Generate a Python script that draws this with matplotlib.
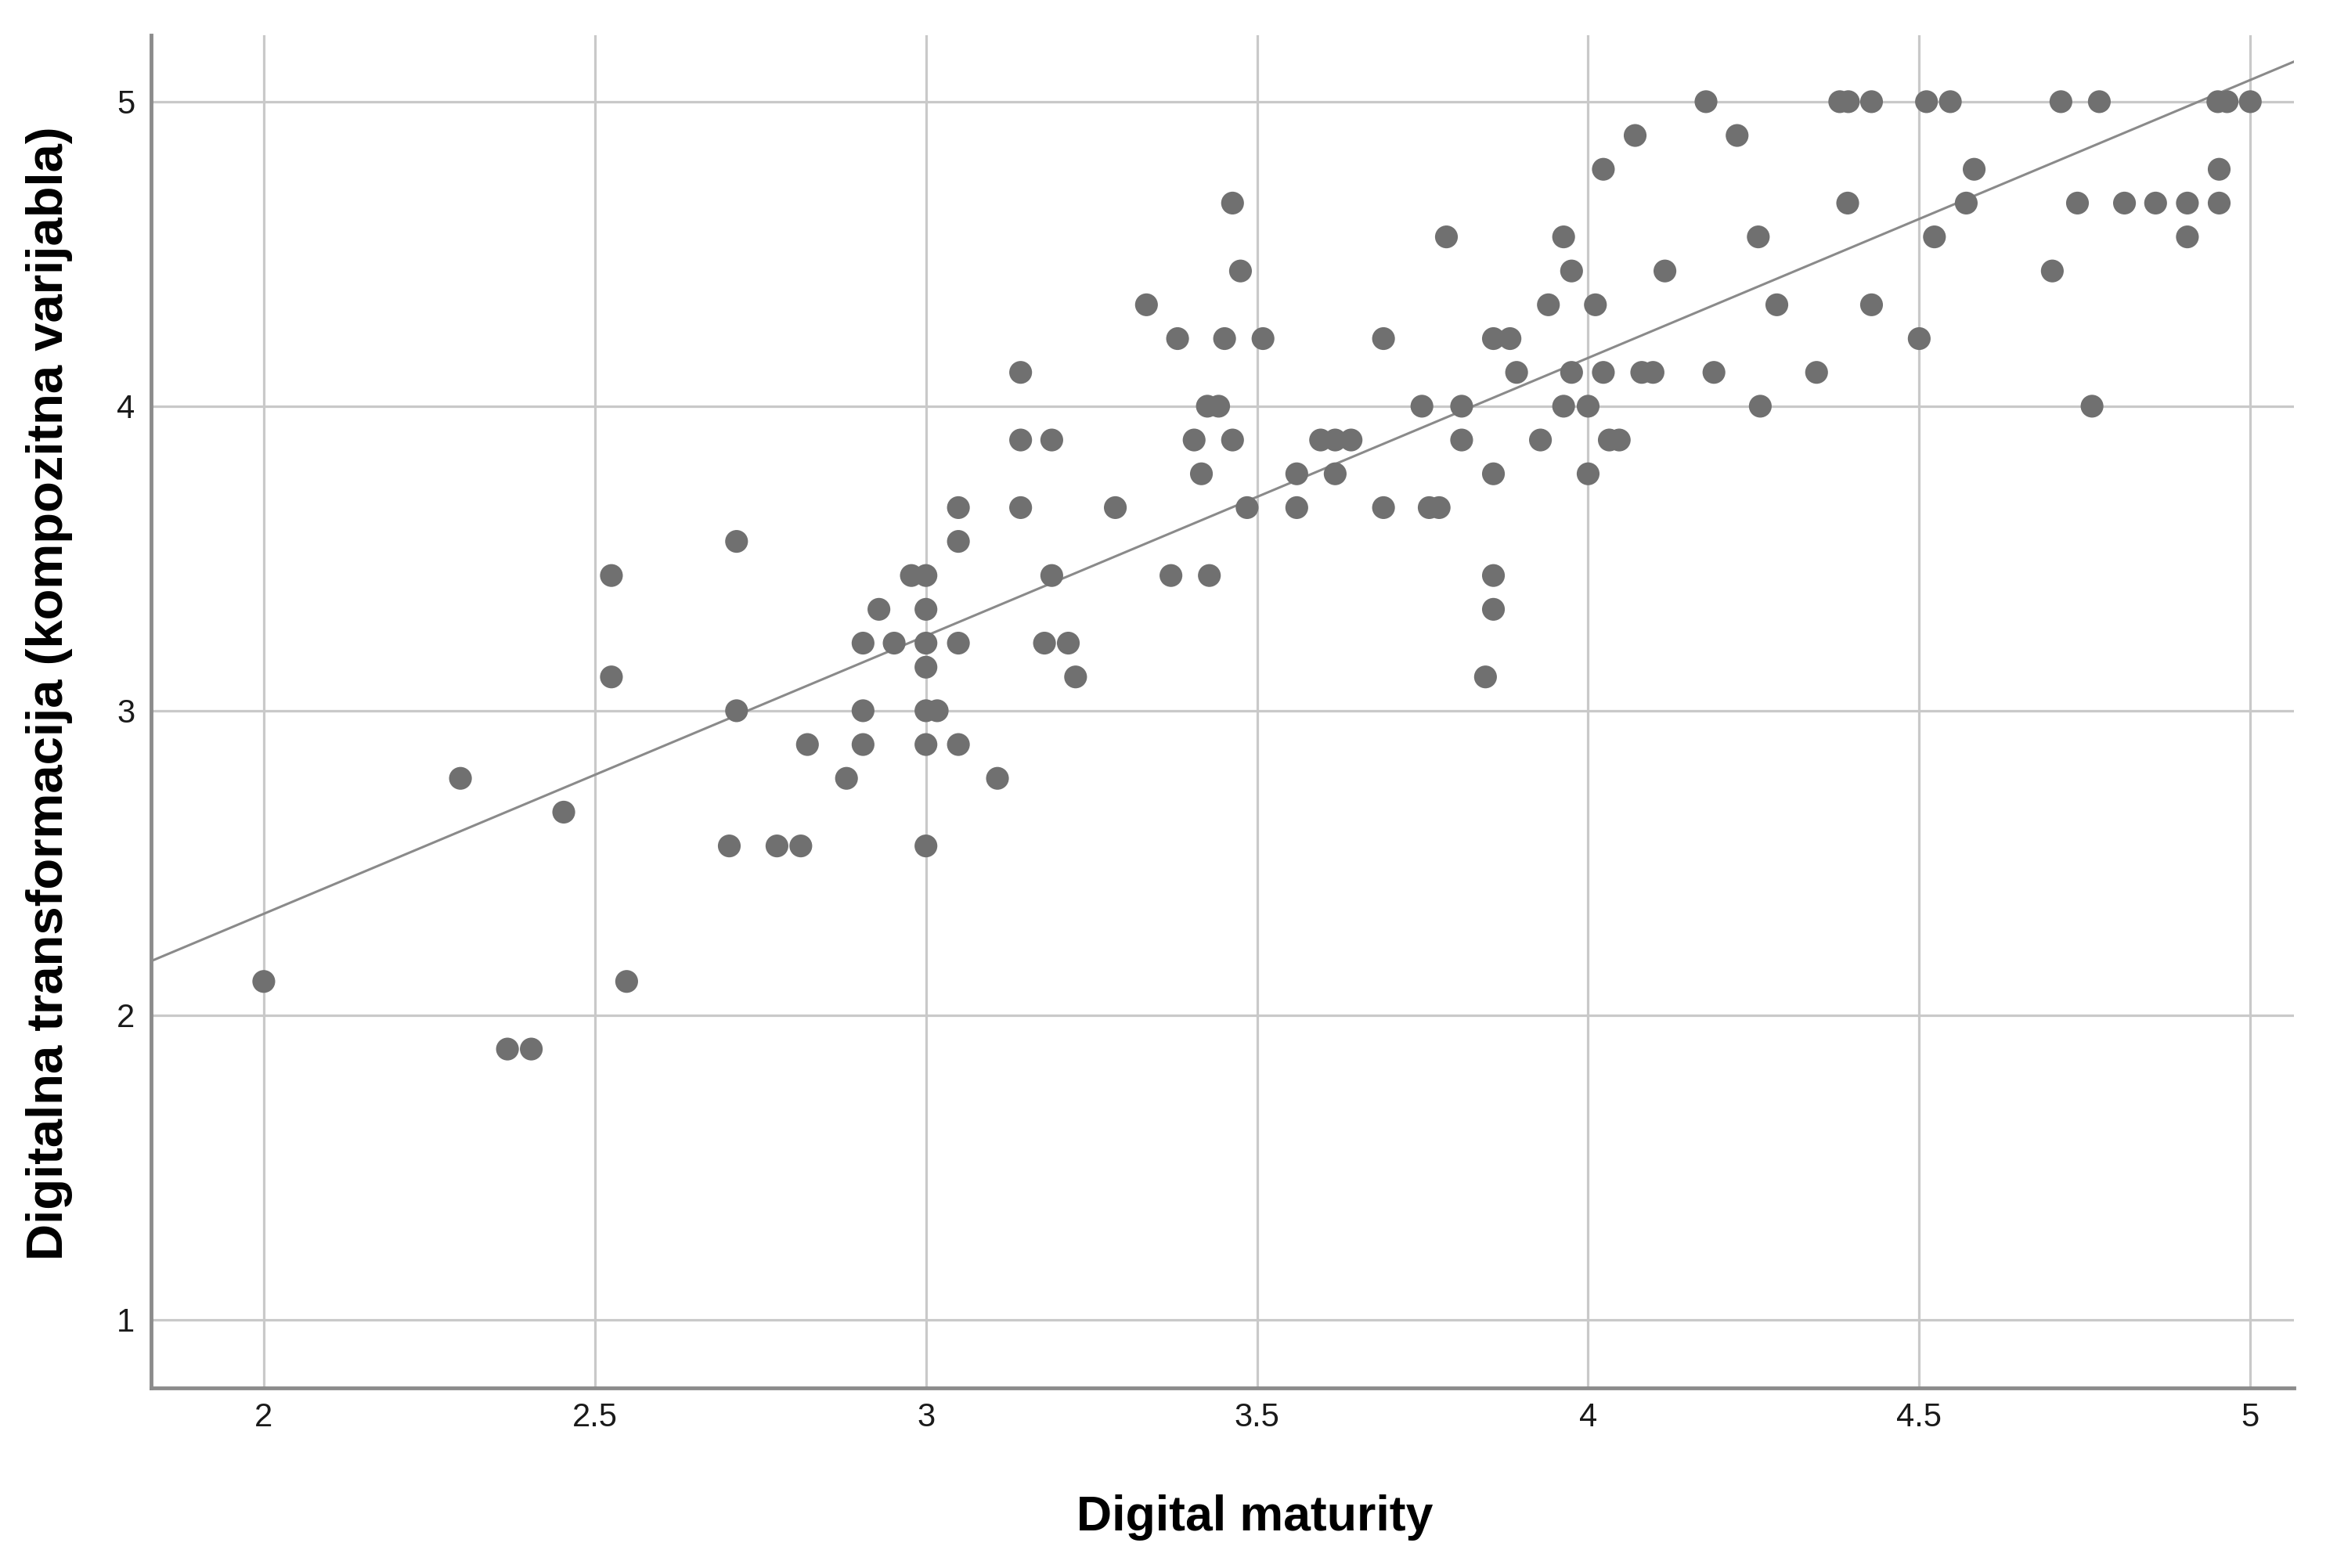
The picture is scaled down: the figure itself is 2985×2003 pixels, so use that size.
import matplotlib
matplotlib.use('Agg')
import matplotlib.pyplot as plt
import numpy as np
from matplotlib import font_manager

# ---- data ----
x_maturity = [2.000, 2.297, 2.368, 2.404, 2.453, 2.525, 2.525, 2.548, 2.703, 2.714,
              2.714, 2.775, 2.811, 2.821, 2.880, 2.905, 2.905, 2.905, 2.929, 2.952,
              2.978, 3.000, 3.000, 3.000, 3.000, 3.000, 3.017, 3.000, 3.000, 3.049,
              3.049, 3.049, 3.049, 3.108, 3.143, 3.143, 3.143, 3.190, 3.190, 3.179,
              3.215, 3.226, 3.286, 3.333, 3.370, 3.380, 3.405, 3.416, 3.425, 3.442,
              3.428, 3.451, 3.463, 3.463, 3.475, 3.485, 3.509, 3.560, 3.560, 3.596,
              3.618, 3.642, 3.618, 3.691, 3.691, 3.749, 3.760, 3.775, 3.786, 3.809,
              3.809, 3.845, 3.857, 3.882, 3.857, 3.857, 3.857, 3.892, 3.928, 3.940,
              3.963, 3.963, 3.975, 3.975, 4.000, 4.000, 4.011, 4.023, 4.023, 4.032,
              4.047, 4.071, 4.081, 4.098, 4.116, 4.178, 4.190, 4.225, 4.257, 4.260,
              4.285, 4.345, 4.380, 4.393, 4.392, 4.428, 4.428, 4.500, 4.511, 4.523,
              4.547, 4.571, 4.583, 4.701, 4.714, 4.739, 4.761, 4.772, 4.810, 4.857,
              4.905, 4.905, 4.951, 4.965, 4.953, 4.953, 5.000]
y_transformation = [2.111, 2.778, 1.889, 1.889, 2.667, 3.444, 3.111, 2.111, 2.556, 3.556,
                    3.000, 2.556, 2.556, 2.889, 2.778, 3.222, 3.000, 2.889, 3.333, 3.222,
                    3.444, 3.444, 3.333, 3.222, 3.143, 3.000, 3.000, 2.889, 2.556, 3.667,
                    3.556, 3.222, 2.889, 2.778, 4.111, 3.889, 3.667, 3.889, 3.444, 3.222,
                    3.222, 3.111, 3.667, 4.333, 3.444, 4.222, 3.889, 3.778, 4.000, 4.000,
                    3.444, 4.222, 4.667, 3.889, 4.444, 3.667, 4.222, 3.778, 3.667, 3.889,
                    3.889, 3.889, 3.778, 4.222, 3.667, 4.000, 3.667, 3.667, 4.556, 4.000,
                    3.889, 3.111, 4.222, 4.222, 3.778, 3.444, 3.333, 4.111, 3.889, 4.333,
                    4.556, 4.000, 4.444, 4.111, 4.000, 3.778, 4.333, 4.778, 4.111, 3.889,
                    3.889, 4.889, 4.111, 4.111, 4.444, 5.000, 4.111, 4.889, 4.556, 4.000,
                    4.333, 4.111, 5.000, 5.000, 4.667, 5.000, 4.333, 4.222, 5.000, 4.556,
                    5.000, 4.667, 4.778, 4.444, 5.000, 4.667, 4.000, 5.000, 4.667, 4.667,
                    4.667, 4.556, 5.000, 5.000, 4.778, 4.667, 5.000]

x_ticks = [2, 2.5, 3, 3.5, 4, 4.5, 5]
x_tick_labels = ['2', '2.5', '3', '3.5', '4', '4.5', '5']
y_ticks = [1, 2, 3, 4, 5]
y_tick_labels = ['1', '2', '3', '4', '5']
x_label = 'Digital maturity'
y_label = 'Digitalna transformacija (kompozitna varijabla)'


def pick(*names):
    for n in names:
        try:
            font_manager.findfont(font_manager.FontProperties(family=n),
                                  fallback_to_default=False)
            return n
        except Exception:
            continue
    return 'DejaVu Sans'


base_font = pick('Liberation Sans', 'Arial', 'DejaVu Sans')

fig = plt.figure(figsize=(29.85, 20.03), dpi=100)
left, right, bottom, top = 0.0647, 0.9816, 0.1148, 0.9775
ax = fig.add_axes([left, bottom, right - left, top - bottom])

ax.set_xlim(1.830, 5.066)
ax.set_ylim(0.776, 5.218)

ax.set_axisbelow(True)
ax.grid(True, color='#c9c9c9', linewidth=2.3)

ax.scatter(x_maturity, y_transformation, s=440, color='#707070',
           edgecolors='none', zorder=3)

xa = np.array(x_maturity)
ya = np.array(y_transformation)
slope, intercept = np.polyfit(xa, ya, 1)
xx = np.array(ax.get_xlim())
ax.plot(xx, intercept + slope * xx, color='#8a8a8a', linewidth=2.2, zorder=2)

for s in ['top', 'right']:
    ax.spines[s].set_visible(False)
for s in ['left', 'bottom']:
    ax.spines[s].set_color('#8c8c8c')
    ax.spines[s].set_linewidth(3.5)

ax.set_xticks(x_ticks)
ax.set_xticklabels(x_tick_labels, fontsize=30, family=base_font, color='#1a1a1a')
ax.set_yticks(y_ticks)
ax.set_yticklabels(y_tick_labels, fontsize=30, family=base_font, color='#1a1a1a')
ax.tick_params(axis='both', length=0)
ax.tick_params(axis='x', pad=13)
ax.tick_params(axis='y', pad=15)

fig.text(842 / 1568, 1 - 1018 / 1052, x_label, ha='center', va='center',
         fontsize=45, fontweight='bold', family=base_font)
fig.text(33 / 1568, 1 - 465 / 1052, y_label, ha='center', va='center',
         rotation=90, fontsize=47, fontweight='bold', family=base_font)

fig.savefig('out.png', dpi=100, facecolor='white')
